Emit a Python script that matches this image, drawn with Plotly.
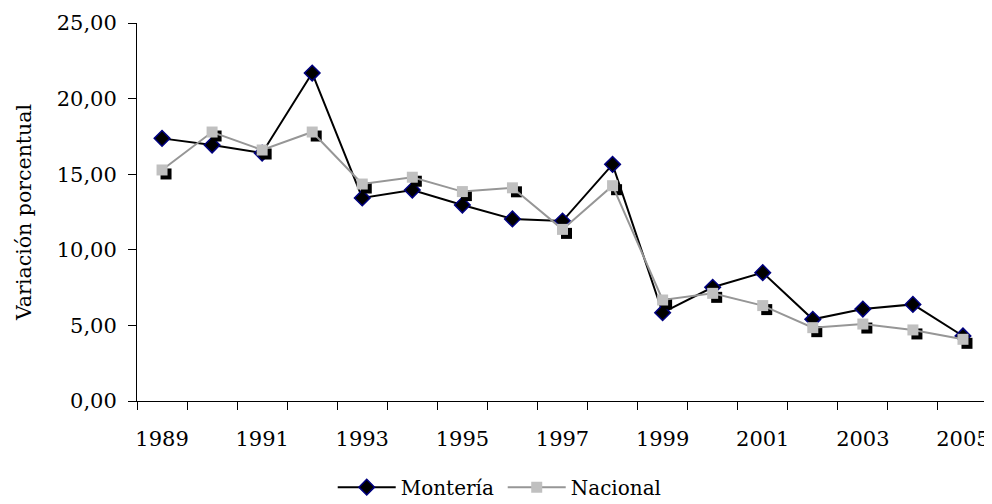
import plotly.graph_objects as go

years = list(range(1989, 2006))
monteria = [17.37, 16.93, 16.40, 21.69, 13.43, 13.95, 12.96, 12.04, 11.90, 15.65,
            5.84, 7.52, 8.49, 5.40, 6.08, 6.39, 4.30]
nacional = [15.28, 17.79, 16.60, 17.79, 14.35, 14.80, 13.85, 14.10, 11.35, 14.24,
            6.68, 7.12, 6.31, 4.85, 5.09, 4.70, 4.08]
label_years = [1989, 1991, 1993, 1995, 1997, 1999, 2001, 2003, 2005]
y_ticks = [0, 5, 10, 15, 20, 25]

FONT = "DejaVu Serif"
xr = [1988.5, 2005.5]
yr = [0, 25]
# shadow offset (about 4 px right, 4 px down)
dx = 0.08
dy = 0.265

fig = go.Figure()

fig.add_trace(go.Scatter(
    x=years, y=monteria, name="Montería", mode="lines+markers",
    line=dict(color="#000000", width=2),
    marker=dict(symbol="diamond", size=12, color="#000000",
                line=dict(color="#000080", width=1.5)),
    xaxis="x", yaxis="y"))

fig.add_trace(go.Scatter(
    x=years, y=nacional, name="shadow", mode="markers", showlegend=False,
    marker=dict(symbol="square", size=11, color="#000000"),
    hoverinfo="skip", xaxis="x2", yaxis="y2"))

fig.add_trace(go.Scatter(
    x=years, y=nacional, name="Nacional", mode="lines+markers",
    line=dict(color="#969696", width=2),
    marker=dict(symbol="square", size=11, color="#C0C0C0"),
    xaxis="x3", yaxis="y3"))

hidden = dict(visible=False, showgrid=False, zeroline=False)

fig.update_layout(
    width=984, height=496,
    margin=dict(l=129, r=4, t=15, b=103),
    paper_bgcolor="white", plot_bgcolor="white",
    separators=",.",
    font=dict(family=FONT, size=21, color="#000000"),
    showlegend=True,
    legend=dict(orientation="h", xref="container", yref="container",
                x=0.330, xanchor="left", y=0.034, yanchor="middle",
                font=dict(family=FONT, size=20), bgcolor="rgba(0,0,0,0)",
                itemwidth=58, entrywidth=97, tracegroupgap=0),
    xaxis=dict(range=xr, tickmode="array", tickvals=label_years,
               ticktext=[str(v) for v in label_years],
               ticks="outside", ticklen=19, tickcolor="rgba(0,0,0,0)",
               showline=True, linecolor="#000000", linewidth=1,
               showgrid=False, zeroline=False, automargin=False,
               tickfont=dict(family=FONT, size=21),
               minor=dict(tickmode="linear", tick0=1988.5, dtick=1, ticks="outside",
                          ticklen=8, tickcolor="#000000", tickwidth=1, showgrid=False)),
    yaxis=dict(range=yr, tickmode="array", tickvals=y_ticks, tickformat=".2f",
               ticks="outside", ticklen=8, tickcolor="#000000", tickwidth=1,
               showline=True, linecolor="#000000", linewidth=1,
               showgrid=False, zeroline=False, automargin=False,
               ticklabelstandoff=7,
               tickfont=dict(family=FONT, size=21),
               title=dict(text="Variación porcentual", standoff=19,
                          font=dict(family=FONT, size=20.5))),
    xaxis2=dict(range=[xr[0] - dx, xr[1] - dx], overlaying="x", **hidden),
    yaxis2=dict(range=[yr[0] + dy, yr[1] + dy], overlaying="y", **hidden),
    xaxis3=dict(range=xr, overlaying="x", **hidden),
    yaxis3=dict(range=yr, overlaying="y", **hidden),
)

fig.write_html("out.html")
